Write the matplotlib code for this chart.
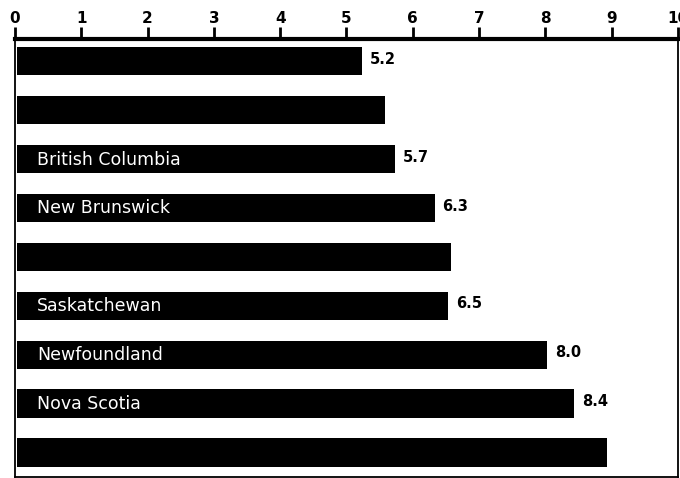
import numpy as np
import matplotlib.pyplot as plt

# Данные (у части полос подписи скрыты)
provinces = ["", "", "British Columbia", "New Brunswick", "",
             "Saskatchewan", "Newfoundland", "Nova Scotia", ""]
values = [5.2, 5.55, 5.7, 6.3, 6.55, 6.5, 8.0, 8.4, 8.9]
value_labels = ["5.2", "", "5.7", "6.3", "", "6.5", "8.0", "8.4", ""]
ticks = list(range(0, 11))

narrow = ["Liberation Sans Narrow", "DejaVu Sans"]

fig = plt.figure(figsize=(6.8, 4.78), dpi=100)
ax = fig.add_axes([0.022, 0.003, 0.975, 0.915])

y = np.arange(len(values))
ax.barh(y, values, height=0.58, color="black", left=0.03)

for i, (name, v, lab) in enumerate(zip(provinces, values, value_labels)):
    if name:
        ax.text(0.33, i + 0.01, name, color="white", fontsize=12.5,
                va="center", ha="left", family="DejaVu Sans")
    if lab:
        ax.text(v + 0.15, i - 0.04, lab, color="black", fontsize=10.5,
                fontweight="bold", va="center", ha="left", family=narrow)

ax.set_xlim(0, 10)
ax.set_ylim(len(values) - 0.51, -0.45)
ax.xaxis.tick_top()
ax.set_xticks(ticks)
ax.set_xticklabels([str(t) for t in ticks], fontsize=11, fontweight="bold",
                   family=narrow)
ax.tick_params(axis="x", direction="out", length=9, width=2, pad=0.5)
ax.set_yticks([])

ax.spines["top"].set_linewidth(3)
for s in ["left", "right", "bottom"]:
    ax.spines[s].set_linewidth(1.3)

fig.savefig("out.png", dpi=100)
